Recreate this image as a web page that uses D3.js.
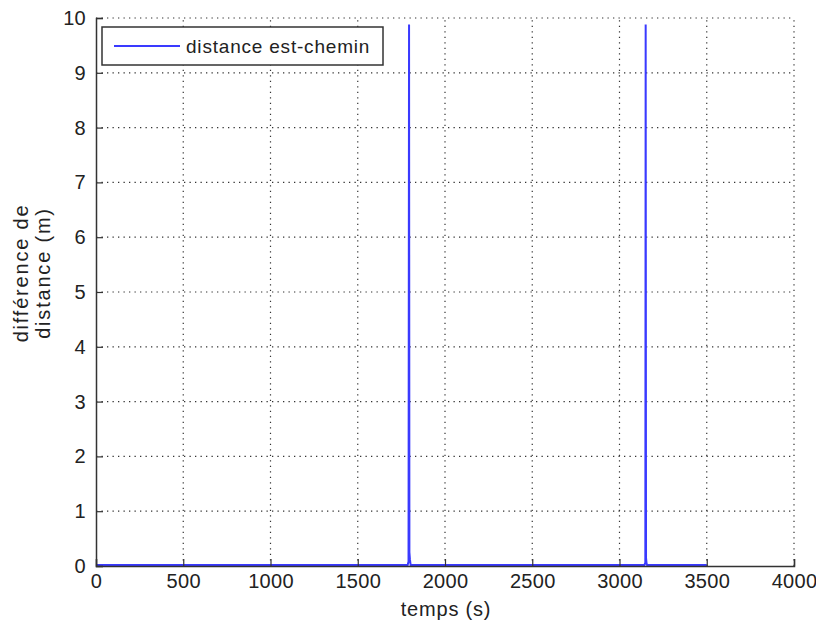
<!DOCTYPE html>
<html><head><meta charset="utf-8">
<script src="https://cdn.jsdelivr.net/npm/d3@7"></script>
<style>
body{margin:0;background:#fff;}
text{font-family:"Liberation Sans",Arial,sans-serif;fill:#222;}
</style></head>
<body><svg id="c" width="816" height="632"></svg>
<script>
// Data
const times  = [0, 500, 1000, 1500, 1786, 1791, 1794, 1796, 1799, 1803, 2000, 2500, 3000, 3143, 3148, 3150, 3152, 3155, 3158, 3500];
const values = [0.02, 0.02, 0.02, 0.02, 0.02, 0.08, 9.88, 0.25, 0.12, 0.02, 0.02, 0.02, 0.02, 0.02, 0.06, 9.88, 0.15, 0.05, 0.02, 0.02];
const xTicks = [0, 500, 1000, 1500, 2000, 2500, 3000, 3500, 4000];
const yTicks = [0, 1, 2, 3, 4, 5, 6, 7, 8, 9, 10];
const seriesName = "distance est-chemin";
const xLabel = "temps (s)";
const yLabelLines = ["différence de", "distance (m)"];

const L = 96, R = 794, T = 18, B = 566;
const svg = d3.select("#c");
const x = d3.scaleLinear().domain([0, 4000]).range([L, R]);
const y = d3.scaleLinear().domain([0, 10]).range([B, T]);

// grid
const grid = svg.append("g").attr("stroke", "#333").attr("stroke-width", 1.2).attr("stroke-dasharray", "1.3,4.2");
grid.selectAll(".gx").data(xTicks.slice(1)).join("line")
  .attr("x1", d => x(d)).attr("x2", d => x(d)).attr("y1", B).attr("y2", T);
grid.selectAll(".gy").data(yTicks.slice(1)).join("line")
  .attr("y1", d => y(d)).attr("y2", d => y(d)).attr("x1", L).attr("x2", R);

// series
const line = d3.line().x((d, i) => x(times[i])).y((d) => y(d));
svg.append("path").datum(values).attr("d", line)
  .attr("fill", "none").attr("stroke", "#3a3aff").attr("stroke-width", 2);

// axes
const xAxis = d3.axisBottom(x).tickValues(xTicks).tickSize(-7).tickPadding(8).tickFormat(d3.format("d"));
const yAxis = d3.axisLeft(y).tickValues(yTicks).tickSize(-7).tickPadding(10).tickFormat(d3.format("d"));
const gx = svg.append("g").attr("transform", `translate(0,${B})`).call(xAxis);
const gy = svg.append("g").attr("transform", `translate(${L},0)`).call(yAxis);
[gx, gy].forEach(g => {
  g.select(".domain").attr("stroke", "#333").attr("stroke-width", 1.5);
  g.selectAll(".tick line").attr("stroke", "#333").attr("stroke-width", 1.2);
  g.selectAll(".tick text").attr("font-size", 20).attr("letter-spacing", "0.3px")
    .attr("font-family", "Liberation Sans, Arial, sans-serif").attr("fill", "#222");
});

// axis labels
svg.append("text").attr("x", 446).attr("y", 616).attr("text-anchor", "middle")
  .attr("font-size", 20).attr("letter-spacing", "0.8px").text(xLabel);
yLabelLines.forEach((s, i) => {
  svg.append("text").attr("transform", `translate(${28 + i * 22},${273}) rotate(-90)`)
    .attr("text-anchor", "middle").attr("font-size", 20).attr("letter-spacing", "1.8px").text(s);
});

// legend
const lg = svg.append("g");
lg.append("rect").attr("x", 102).attr("y", 27).attr("width", 281).attr("height", 38)
  .attr("fill", "#fff").attr("stroke", "#333").attr("stroke-width", 1.5);
lg.append("line").attr("x1", 114).attr("x2", 180).attr("y1", 46).attr("y2", 46)
  .attr("stroke", "#3a3aff").attr("stroke-width", 2);
lg.append("text").attr("x", 186).attr("y", 53).attr("font-size", 19).attr("letter-spacing", "0.8px").text(seriesName);
</script></body></html>
